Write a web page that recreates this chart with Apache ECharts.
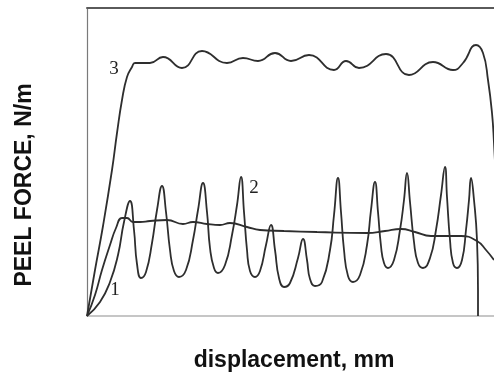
<!DOCTYPE html>
<html>
<head>
<meta charset="utf-8">
<script src="https://cdn.jsdelivr.net/npm/echarts@6/dist/echarts.min.js"></script>
<style>
  html, body { margin: 0; padding: 0; background: #fff; }
  #chart { width: 494px; height: 374px; }
</style>
</head>
<body>
<div id="chart"></div>
<script>
// Peel test traces: displacement (mm) vs peel force (N/m), pairs of [x, y].
const curve1 = [
  [0, 0], [0.8, 2.1], [1.5, 4.6], [2.3, 7.1], [2.9, 8.8], [3.5, 9.8], [4.0, 9.8],
  [4.6, 9.4], [5.3, 9.4], [6.3, 9.5], [8.0, 9.6], [9.6, 9.2], [10.6, 9.4],
  [12.0, 9.2], [13.3, 9.1], [14.3, 9.3], [16.0, 8.9], [17.3, 8.6], [19.7, 8.5],
  [23.0, 8.4], [28.0, 8.3], [29.8, 8.5], [31.4, 8.7], [32.8, 8.4], [34.4, 8.0],
  [37.4, 8.0], [39.0, 7.5], [39.9, 6.6], [40.7, 5.6]
];

const curve2 = [
  [0, 0], [1.3, 1.4], [2.3, 3.4], [3.1, 6.1], [3.7, 9.4], [4.3, 11.5], [4.7, 8.6],
  [5.0, 5.2], [5.4, 3.8], [5.9, 4.4], [6.5, 7.3], [7.0, 10.6], [7.5, 13.0],
  [7.9, 10.4], [8.3, 6.6], [8.7, 4.5], [9.2, 3.9], [9.9, 4.6], [10.6, 7.6],
  [11.1, 10.6], [11.6, 13.3], [12.0, 10.4], [12.3, 6.8], [12.7, 4.8], [13.1, 4.3],
  [13.8, 5.1], [14.5, 8.1], [15.0, 11.1], [15.4, 13.9], [15.7, 10.4], [16.0, 6.6],
  [16.3, 4.5], [16.8, 3.9], [17.3, 4.5], [17.9, 7.1], [18.4, 9.1], [18.8, 6.6],
  [19.2, 3.8], [19.7, 2.9], [20.3, 3.3], [21.1, 5.8], [21.6, 7.7], [22.0, 5.6],
  [22.3, 3.7], [22.8, 3.0], [23.5, 3.4], [24.3, 6.6], [24.7, 10.1], [25.1, 13.8],
  [25.4, 10.4], [25.7, 6.6], [26.1, 4.0], [26.6, 3.4], [27.3, 4.1], [28.0, 7.1],
  [28.4, 10.6], [28.8, 13.4], [29.1, 10.4], [29.4, 7.0], [29.7, 5.3], [30.1, 4.8],
  [30.7, 5.6], [31.3, 8.6], [31.7, 11.6], [32.0, 14.3], [32.3, 11.4], [32.7, 7.4],
  [33.1, 5.3], [33.6, 4.8], [34.3, 5.8], [34.9, 8.6], [35.4, 12.1], [35.8, 14.9],
  [36.0, 11.9], [36.3, 7.6], [36.6, 5.3], [37.0, 4.8], [37.5, 5.6], [37.9, 8.6],
  [38.2, 11.6], [38.4, 13.8], [38.7, 11.6], [39.0, 7.6], [39.1, 2.6], [39.1, 0]
];

const curve3 = [
  [0, 0], [0.8, 4.6], [1.6, 9.0], [2.5, 14.6], [3.0, 18.3], [3.5, 21.6], [4.0, 23.9],
  [4.5, 24.9], [4.8, 25.3], [6.3, 25.3], [7.6, 25.9], [9.5, 24.8], [11.5, 26.5],
  [14.0, 25.3], [15.6, 25.8], [17.1, 25.5], [18.8, 26.3], [20.4, 25.5], [22.2, 26.1],
  [24.7, 24.6], [25.9, 25.5], [27.2, 24.8], [29.9, 26.2], [32.2, 24.1], [34.6, 25.4],
  [36.6, 24.6], [37.6, 25.3], [38.9, 27.1], [39.6, 26.3], [40.1, 23.6], [40.5, 20.3],
  [40.7, 17.3], [41.0, 11.6]
];

const curveLabels = ['1', '2', '3'];
const xTitle = 'displacement, mm';
const yTitle = 'PEEL FORCE, N/m';

const X_MAX = 40.7;
const Y_MAX = 30.8;

const chart = echarts.init(document.getElementById('chart'), null, { renderer: 'canvas' });

const lineColor = '#2e2e2e';
function traceSeries(data) {
  return {
    type: 'line',
    data: data,
    showSymbol: false,
    smooth: 0.5,
    clip: true,
    lineStyle: { color: lineColor, width: 1.8 },
    silent: true,
    animation: false
  };
}

const hiddenBits = {
  axisTick: { show: false },
  axisLabel: { show: false },
  splitLine: { show: false }
};

const digitFont = '19px "Liberation Serif", "Times New Roman", serif';
const titleFont = 'bold 23px "Liberation Sans", Arial, sans-serif';

chart.setOption({
  backgroundColor: '#ffffff',
  animation: false,
  grid: { left: 87, right: 0, top: 8, bottom: 58 },
  xAxis: [
    Object.assign({
      type: 'value', min: 0, max: X_MAX, position: 'bottom',
      axisLine: { show: true, onZero: false, lineStyle: { color: '#b4b4b4', width: 1.5 } }
    }, hiddenBits),
    Object.assign({
      type: 'value', min: 0, max: X_MAX, position: 'top',
      axisLine: { show: true, onZero: false, lineStyle: { color: '#5a5a5a', width: 2 } }
    }, hiddenBits)
  ],
  yAxis: Object.assign({
    type: 'value', min: 0, max: Y_MAX,
    axisLine: { show: true, onZero: false, lineStyle: { color: '#7a7a7a', width: 1.2 } }
  }, hiddenBits),
  series: [traceSeries(curve1), traceSeries(curve2), traceSeries(curve3)],
  graphic: [
    {
      type: 'text', x: 115, y: 290,
      style: { text: curveLabels[0], font: digitFont, fill: '#222',
               textAlign: 'center', textVerticalAlign: 'middle' }
    },
    {
      type: 'text', x: 254, y: 188,
      style: { text: curveLabels[1], font: digitFont, fill: '#222',
               textAlign: 'center', textVerticalAlign: 'middle' }
    },
    {
      type: 'text', x: 114, y: 69,
      style: { text: curveLabels[2], font: digitFont, fill: '#222',
               textAlign: 'center', textVerticalAlign: 'middle' }
    },
    {
      type: 'text', x: 294, y: 361,
      style: { text: xTitle, font: titleFont, fill: '#111',
               textAlign: 'center', textVerticalAlign: 'middle' }
    },
    {
      type: 'text', x: 25, y: 185, rotation: Math.PI / 2,
      style: { text: yTitle, font: titleFont, fill: '#111',
               textAlign: 'center', textVerticalAlign: 'middle' }
    }
  ]
});
</script>
</body>
</html>
